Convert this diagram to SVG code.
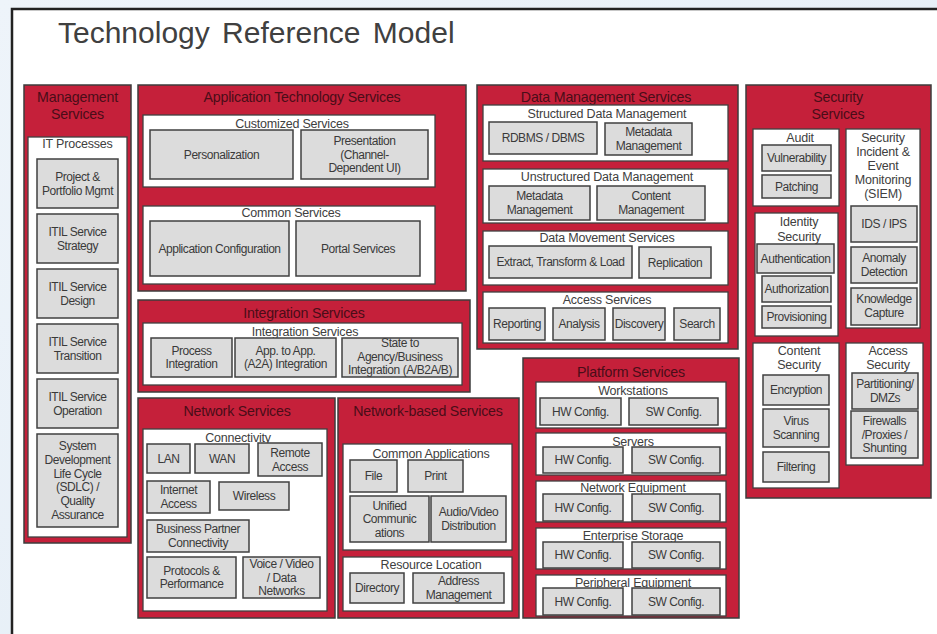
<svg xmlns="http://www.w3.org/2000/svg" width="937" height="634" viewBox="0 0 937 634">
  <style>
    text { font-family: "Liberation Sans", Arial, sans-serif; text-anchor: middle; }
    .title { font-size: 30px; fill: #404040; text-anchor: start; word-spacing: 4px; }
    .rh { font-size: 14.2px; fill: #4a0d18; letter-spacing: -0.2px; }
    .wh { font-size: 12.5px; fill: #404040; letter-spacing: -0.2px; }
    .bl { font-size: 12px; fill: #3a3a3a; letter-spacing: -0.45px; }
    .red { fill: #c5203a; stroke: #3c3c3c; stroke-width: 1.5; }
    .wb { fill: #ffffff; stroke: #404040; stroke-width: 1.3; }
    .gb { fill: #dcdcdc; stroke: #404040; stroke-width: 1.5; }
  </style>
  <defs>
    <linearGradient id="bg" x1="0" y1="0" x2="1" y2="1">
      <stop offset="0" stop-color="#eef4fa"/>
      <stop offset="1" stop-color="#e2ecf5"/>
    </linearGradient>
  </defs>

  <!-- page background and frame -->
  <rect x="0" y="0" width="937" height="634" fill="url(#bg)"/>
  <rect x="12" y="9" width="940" height="640" fill="#ffffff" stroke="#222222" stroke-width="2.5"/>
  <text class="title" x="58" y="43">Technology Reference Model</text>

  <!-- Management Services -->
  <g id="management-services">
    <rect class="red" x="24" y="85" width="107" height="458"/>
    <text class="rh" x="77.5" y="102">Management</text>
    <text class="rh" x="77.5" y="119">Services</text>
    <rect class="wb" x="28" y="137" width="99" height="400"/>
    <text class="wh" x="77.5" y="148">IT Processes</text>
    <rect class="gb" x="37" y="159" width="81" height="49"/>
    <text class="bl" x="77.5" y="181"><tspan x="77.5">Project &amp;</tspan><tspan x="77.5" dy="13.5">Portfolio Mgmt</tspan></text>
    <rect class="gb" x="37" y="214" width="81" height="49"/>
    <text class="bl" x="77.5" y="236"><tspan x="77.5">ITIL Service</tspan><tspan x="77.5" dy="13.5">Strategy</tspan></text>
    <rect class="gb" x="37" y="269" width="81" height="49"/>
    <text class="bl" x="77.5" y="291"><tspan x="77.5">ITIL Service</tspan><tspan x="77.5" dy="13.5">Design</tspan></text>
    <rect class="gb" x="37" y="324" width="81" height="49"/>
    <text class="bl" x="77.5" y="346"><tspan x="77.5">ITIL Service</tspan><tspan x="77.5" dy="13.5">Transition</tspan></text>
    <rect class="gb" x="37" y="379" width="81" height="49"/>
    <text class="bl" x="77.5" y="401"><tspan x="77.5">ITIL Service</tspan><tspan x="77.5" dy="13.5">Operation</tspan></text>
    <rect class="gb" x="37" y="434" width="81" height="93"/>
    <text class="bl" x="77.5" y="450"><tspan x="77.5">System</tspan><tspan x="77.5" dy="13.8">Development</tspan><tspan x="77.5" dy="13.8">Life Cycle</tspan><tspan x="77.5" dy="13.8">(SDLC) /</tspan><tspan x="77.5" dy="13.8">Quality</tspan><tspan x="77.5" dy="13.8">Assurance</tspan></text>
  </g>

  <!-- Application Technology Services -->
  <g id="application-technology-services">
    <rect class="red" x="138" y="85" width="328" height="206"/>
    <text class="rh" x="302" y="102">Application Technology Services</text>
    <rect class="wb" x="143" y="115" width="292" height="72"/>
    <text class="wh" x="292" y="127.5">Customized Services</text>
    <rect class="gb" x="150" y="130" width="143" height="49"/>
    <text class="bl" x="221.5" y="158.5">Personalization</text>
    <rect class="gb" x="301" y="130" width="127" height="49"/>
    <text class="bl" x="364.5" y="145"><tspan x="364.5">Presentation</tspan><tspan x="364.5" dy="13.5">(Channel-</tspan><tspan x="364.5" dy="13.5">Dependent UI)</tspan></text>
    <rect class="wb" x="143" y="206" width="292" height="78"/>
    <text class="wh" x="291" y="216.5">Common Services</text>
    <rect class="gb" x="150" y="221" width="139" height="55"/>
    <text class="bl" x="219.5" y="252.5">Application Configuration</text>
    <rect class="gb" x="296" y="221" width="124" height="55"/>
    <text class="bl" x="358" y="252.5">Portal Services</text>
  </g>

  <!-- Integration Services -->
  <g id="integration-services">
    <rect class="red" x="138" y="300" width="332" height="92"/>
    <text class="rh" x="304" y="318">Integration Services</text>
    <rect class="wb" x="143" y="323" width="319" height="62"/>
    <text class="wh" x="305" y="335.5">Integration Services</text>
    <rect class="gb" x="151" y="338" width="81" height="39"/>
    <text class="bl" x="191.5" y="354.5"><tspan x="191.5">Process</tspan><tspan x="191.5" dy="13.5">Integration</tspan></text>
    <rect class="gb" x="235" y="338" width="101" height="39"/>
    <text class="bl" x="285.5" y="354.5"><tspan x="285.5">App. to App.</tspan><tspan x="285.5" dy="13.5">(A2A) Integration</tspan></text>
    <rect class="gb" x="342" y="338" width="116" height="39"/>
    <text class="bl" x="400" y="347"><tspan x="400">State to</tspan><tspan x="400" dy="13.5">Agency/Business</tspan><tspan x="400" dy="13.5">Integration (A/B2A/B)</tspan></text>
  </g>

  <!-- Network Services -->
  <g id="network-services">
    <rect class="red" x="138" y="398" width="197" height="220"/>
    <text class="rh" x="237" y="416">Network Services</text>
    <rect class="wb" x="143" y="429" width="184" height="182"/>
    <text class="wh" x="238" y="442">Connectivity</text>
    <rect class="gb" x="147" y="444" width="43" height="29"/>
    <text class="bl" x="168.5" y="462.5">LAN</text>
    <rect class="gb" x="195" y="444" width="54" height="29"/>
    <text class="bl" x="222" y="462.5">WAN</text>
    <rect class="gb" x="258" y="443" width="64" height="33"/>
    <text class="bl" x="290" y="457"><tspan x="290">Remote</tspan><tspan x="290" dy="13.5">Access</tspan></text>
    <rect class="gb" x="147" y="481" width="63" height="32"/>
    <text class="bl" x="178.5" y="494"><tspan x="178.5">Internet</tspan><tspan x="178.5" dy="13.5">Access</tspan></text>
    <rect class="gb" x="219" y="482" width="70" height="28"/>
    <text class="bl" x="254" y="500">Wireless</text>
    <rect class="gb" x="147" y="520" width="102" height="32"/>
    <text class="bl" x="198" y="533"><tspan x="198">Business Partner</tspan><tspan x="198" dy="13.5">Connectivity</tspan></text>
    <rect class="gb" x="147" y="557" width="89" height="41"/>
    <text class="bl" x="191.5" y="574.5"><tspan x="191.5">Protocols &amp;</tspan><tspan x="191.5" dy="13.5">Performance</tspan></text>
    <rect class="gb" x="243" y="557" width="77" height="41"/>
    <text class="bl" x="281.5" y="568"><tspan x="281.5">Voice / Video</tspan><tspan x="281.5" dy="13.5">/ Data</tspan><tspan x="281.5" dy="13.5">Networks</tspan></text>
  </g>

  <!-- Network-based Services -->
  <g id="network-based-services">
    <rect class="red" x="338" y="398" width="181" height="220"/>
    <text class="rh" x="428" y="416">Network-based Services</text>
    <rect class="wb" x="343" y="444" width="169" height="106"/>
    <text class="wh" x="431" y="457.5">Common Applications</text>
    <rect class="gb" x="350" y="460" width="47" height="32"/>
    <text class="bl" x="373.5" y="480">File</text>
    <rect class="gb" x="408" y="460" width="55" height="32"/>
    <text class="bl" x="435.5" y="480">Print</text>
    <rect class="gb" x="350" y="496" width="79" height="46"/>
    <text class="bl" x="389.5" y="509.5"><tspan x="389.5">Unified</tspan><tspan x="389.5" dy="13.5">Communic</tspan><tspan x="389.5" dy="13.5">ations</tspan></text>
    <rect class="gb" x="431" y="496" width="75" height="46"/>
    <text class="bl" x="468.5" y="516"><tspan x="468.5">Audio/Video</tspan><tspan x="468.5" dy="13.5">Distribution</tspan></text>
    <rect class="wb" x="343" y="557" width="169" height="54"/>
    <text class="wh" x="431" y="568.5">Resource Location</text>
    <rect class="gb" x="350" y="573" width="54" height="30"/>
    <text class="bl" x="377" y="592">Directory</text>
    <rect class="gb" x="413" y="573" width="91" height="30"/>
    <text class="bl" x="458.5" y="585"><tspan x="458.5">Address</tspan><tspan x="458.5" dy="13.5">Management</tspan></text>
  </g>

  <!-- Data Management Services -->
  <g id="data-management-services">
    <rect class="red" x="477" y="85" width="261" height="264"/>
    <text class="rh" x="606" y="102">Data Management Services</text>
    <rect class="wb" x="483" y="105" width="245" height="56"/>
    <text class="wh" x="607" y="117.5">Structured Data Management</text>
    <rect class="gb" x="489" y="122" width="108" height="32"/>
    <text class="bl" x="543" y="142">RDBMS / DBMS</text>
    <rect class="gb" x="605" y="123" width="87" height="32"/>
    <text class="bl" x="648.5" y="136"><tspan x="648.5">Metadata</tspan><tspan x="648.5" dy="13.5">Management</tspan></text>
    <rect class="wb" x="483" y="169" width="245" height="54"/>
    <text class="wh" x="607" y="181">Unstructured Data Management</text>
    <rect class="gb" x="489" y="186" width="101" height="34"/>
    <text class="bl" x="539.5" y="200"><tspan x="539.5">Metadata</tspan><tspan x="539.5" dy="13.5">Management</tspan></text>
    <rect class="gb" x="597" y="186" width="108" height="34"/>
    <text class="bl" x="651" y="200"><tspan x="651">Content</tspan><tspan x="651" dy="13.5">Management</tspan></text>
    <rect class="wb" x="483" y="231" width="245" height="54"/>
    <text class="wh" x="607" y="241.5">Data Movement Services</text>
    <rect class="gb" x="489" y="246" width="143" height="32"/>
    <text class="bl" x="560.5" y="266">Extract, Transform &amp; Load</text>
    <rect class="gb" x="639" y="247" width="72" height="31"/>
    <text class="bl" x="675" y="266.5">Replication</text>
    <rect class="wb" x="483" y="292" width="245" height="51"/>
    <text class="wh" x="607" y="303.5">Access Services</text>
    <rect class="gb" x="489" y="308" width="56" height="32"/>
    <text class="bl" x="517" y="328">Reporting</text>
    <rect class="gb" x="553" y="308" width="52" height="32"/>
    <text class="bl" x="579" y="328">Analysis</text>
    <rect class="gb" x="613" y="308" width="52" height="32"/>
    <text class="bl" x="639" y="328">Discovery</text>
    <rect class="gb" x="674" y="308" width="46" height="32"/>
    <text class="bl" x="697" y="328">Search</text>
  </g>

  <!-- Platform Services -->
  <g id="platform-services">
    <rect class="red" x="523" y="358" width="216" height="260"/>
    <text class="rh" x="631" y="377">Platform Services</text>
    <rect class="wb" x="536" y="382" width="190" height="46"/>
    <text class="wh" x="633" y="394.5">Workstations</text>
    <rect class="gb" x="540" y="398" width="81" height="27"/>
    <text class="bl" x="580.5" y="415.5">HW Config.</text>
    <rect class="gb" x="629" y="398" width="89" height="27"/>
    <text class="bl" x="673.5" y="415.5">SW Config.</text>
    <rect class="wb" x="536" y="433" width="190" height="42"/>
    <text class="wh" x="633" y="445.5">Servers</text>
    <rect class="gb" x="543" y="447" width="80" height="26"/>
    <text class="bl" x="583" y="464">HW Config.</text>
    <rect class="gb" x="632" y="447" width="88" height="26"/>
    <text class="bl" x="676" y="464">SW Config.</text>
    <rect class="wb" x="536" y="481" width="190" height="41"/>
    <text class="wh" x="633" y="491.5">Network Equipment</text>
    <rect class="gb" x="543" y="494" width="80" height="27"/>
    <text class="bl" x="583" y="511.5">HW Config.</text>
    <rect class="gb" x="632" y="494" width="88" height="27"/>
    <text class="bl" x="676" y="511.5">SW Config.</text>
    <rect class="wb" x="536" y="528" width="190" height="41"/>
    <text class="wh" x="633" y="539.5">Enterprise Storage</text>
    <rect class="gb" x="543" y="542" width="80" height="26"/>
    <text class="bl" x="583" y="559">HW Config.</text>
    <rect class="gb" x="632" y="542" width="88" height="26"/>
    <text class="bl" x="676" y="559">SW Config.</text>
    <rect class="wb" x="536" y="575" width="190" height="41"/>
    <text class="wh" x="633" y="586.5">Peripheral Equipment</text>
    <rect class="gb" x="543" y="588" width="80" height="27"/>
    <text class="bl" x="583" y="605.5">HW Config.</text>
    <rect class="gb" x="632" y="588" width="88" height="27"/>
    <text class="bl" x="676" y="605.5">SW Config.</text>
  </g>

  <!-- Security Services -->
  <g id="security-services">
    <rect class="red" x="746" y="85" width="185" height="413"/>
    <text class="rh" x="838" y="102">Security</text>
    <text class="rh" x="838" y="119">Services</text>
    <rect class="wb" x="753" y="129" width="86" height="77"/>
    <text class="wh" x="800" y="141.5">Audit</text>
    <rect class="gb" x="762" y="145" width="69" height="26"/>
    <text class="bl" x="796.5" y="162">Vulnerability</text>
    <rect class="gb" x="762" y="175" width="69" height="23"/>
    <text class="bl" x="796.5" y="190.5">Patching</text>
    <rect class="wb" x="846" y="129" width="74" height="199"/>
    <text class="wh" x="883" y="141.5"><tspan x="883">Security</tspan><tspan x="883" dy="14">Incident &amp;</tspan><tspan x="883" dy="14">Event</tspan><tspan x="883" dy="14">Monitoring</tspan><tspan x="883" dy="14">(SIEM)</tspan></text>
    <rect class="gb" x="851" y="206" width="66" height="36"/>
    <text class="bl" x="884" y="228">IDS / IPS</text>
    <rect class="gb" x="851" y="247" width="66" height="36"/>
    <text class="bl" x="884" y="262"><tspan x="884">Anomaly</tspan><tspan x="884" dy="13.5">Detection</tspan></text>
    <rect class="gb" x="851" y="288" width="66" height="37"/>
    <text class="bl" x="884" y="303"><tspan x="884">Knowledge</tspan><tspan x="884" dy="13.5">Capture</tspan></text>
    <rect class="wb" x="755" y="213" width="83" height="123"/>
    <text class="wh" x="799" y="226"><tspan x="799">Identity</tspan><tspan x="799" dy="14.5">Security</tspan></text>
    <rect class="gb" x="757" y="244" width="77" height="29"/>
    <text class="bl" x="795.5" y="262.5">Authentication</text>
    <rect class="gb" x="762" y="276" width="69" height="26"/>
    <text class="bl" x="796.5" y="293">Authorization</text>
    <rect class="gb" x="762" y="306" width="69" height="22"/>
    <text class="bl" x="796.5" y="321">Provisioning</text>
    <rect class="wb" x="753" y="343" width="86" height="145"/>
    <text class="wh" x="799" y="354.5"><tspan x="799">Content</tspan><tspan x="799" dy="14">Security</tspan></text>
    <rect class="gb" x="763" y="375" width="66" height="30"/>
    <text class="bl" x="796" y="394">Encryption</text>
    <rect class="gb" x="763" y="409" width="66" height="38"/>
    <text class="bl" x="796" y="425"><tspan x="796">Virus</tspan><tspan x="796" dy="13.5">Scanning</tspan></text>
    <rect class="gb" x="763" y="452" width="66" height="30"/>
    <text class="bl" x="796" y="471">Filtering</text>
    <rect class="wb" x="846" y="343" width="77" height="122"/>
    <text class="wh" x="888" y="354.5"><tspan x="888">Access</tspan><tspan x="888" dy="14">Security</tspan></text>
    <rect class="gb" x="852" y="373" width="66" height="36"/>
    <text class="bl" x="885" y="388"><tspan x="885">Partitioning/</tspan><tspan x="885" dy="13.5">DMZs</tspan></text>
    <rect class="gb" x="851" y="411" width="67" height="47"/>
    <text class="bl" x="884.5" y="425"><tspan x="884.5">Firewalls</tspan><tspan x="884.5" dy="13.5">/Proxies /</tspan><tspan x="884.5" dy="13.5">Shunting</tspan></text>
  </g>

  <!-- no connectors in this model; kept as an empty group -->
  <g id="connectors"></g>
</svg>
